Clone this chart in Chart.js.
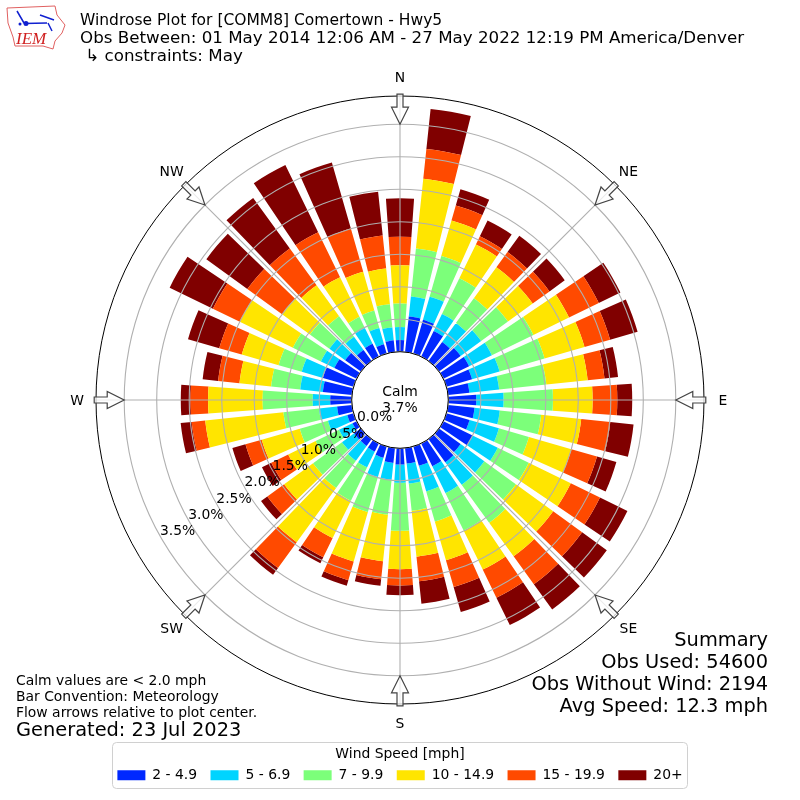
<!DOCTYPE html>
<html>
<head>
<meta charset="utf-8">
<title>Windrose</title>
<script src="https://cdn.jsdelivr.net/npm/chart.js@4"></script>
<style>
html, body { margin: 0; padding: 0; background: #fff; }
canvas { display: block; }
</style>
</head>
<body>
<canvas id="rose" width="800" height="800" style="width:800px;height:800px"></canvas>
<script>
// percent of observations per 10 degree sector, clockwise from north
var directions = [0, 10, 20, 30, 40, 50, 60, 70, 80, 90, 100, 110, 120, 130, 140, 150, 160, 170,
  180, 190, 200, 210, 220, 230, 240, 250, 260, 270, 280, 290, 300, 310, 320, 330, 340, 350];
var speed2to5 = [.18, .55, .54, .44, .36, .41, .44, .41, .33, .43, .41, .37, .50, .41, .44, .39, .31, .24,
  .25, .23, .18, .14, .13, .13, .07, .10, .23, .33, .45, .49, .38, .30, .21, .22, .15, .18];
var speed5to7 = [.20, .31, .37, .29, .36, .39, .39, .44, .46, .42, .39, .47, .43, .45, .43, .46, .41, .31,
  .28, .26, .31, .27, .28, .23, .23, .31, .28, .27, .35, .34, .23, .30, .25, .27, .26, .20];
var speed7to10 = [.36, .74, .65, .61, .47, .51, .71, .72, .73, .76, .64, .48, .53, .60, .72, .64, .48, .42,
  .74, .54, .56, .57, .52, .55, .40, .45, .55, .77, .45, .37, .48, .37, .39, .19, .28, .36];
var speed10to15 = [.59, 1.08, .57, .58, .59, .47, .61, .64, .64, .61, .62, .68, .72, .71, .64, .67, .62, .71,
  .59, .72, .79, .64, 1.03, .55, .47, .61, 1.21, .84, .49, .59, .91, .53, .59, .68, .62, .55];
var speed15to20 = [.44, .46, .24, .14, .29, .32, .51, .41, .26, .38, .45, .41, .50, .55, .53, .48, .43, .38,
  .25, .28, .30, .33, .49, .32, .29, .26, .21, .27, .33, .36, .46, .66, .70, .77, .69, .51];
var speed20up = [.59, .62, .26, .27, .31, .29, .37, .44, .21, .23, .36, .31, .47, .47, .48, .47, .40, .35,
  .15, .10, .09, .10, .13, .12, .16, .21, .17, .15, .24, .50, .74, .78, .96, 1.15, 1.06, .68];
var speedLabels = ['2 - 4.9', '5 - 6.9', '7 - 9.9', '10 - 14.9', '15 - 19.9', '20+'];
var speedColors = ['#0028ff', '#00d4ff', '#7cff7a', '#ffe500', '#ff4a00', '#800000'];
var tickValues = [0, 0.5, 1, 1.5, 2, 2.5, 3, 3.5];
var compassNames = ['N', 'NE', 'E', 'SE', 'S', 'SW', 'W', 'NW'];
var titleLines = ['Windrose Plot for [COMM8] Comertown - Hwy5',
  'Obs Between: 01 May 2014 12:06 AM - 27 May 2022 12:19 PM America/Denver',
  ' \u21b3 constraints: May'];
var summaryLines = ['Summary', 'Obs Used: 54600', 'Obs Without Wind: 2194', 'Avg Speed: 12.3 mph'];
var noteLines = ['Calm values are < 2.0 mph', 'Bar Convention: Meteorology', 'Flow arrows relative to plot center.'];

var FONT = '"DejaVu Sans", sans-serif';
var BAR_WIDTH = 8 * Math.PI / 180;

// polar area arcs, but stacked and centered on their direction
class WindRoseController extends Chart.PolarAreaController {
  updateElements(arcs, start, count, mode) {
    super.updateElements(arcs, start, count, mode);
    var scale = this._cachedMeta.rScale;
    var all = this.chart.data.datasets;
    for (var i = 0; i < count; i++) {
      var index = start + i;
      var below = 0;
      for (var d = 0; d < this.index; d++) below += all[d].data[index];
      var mid = scale.getIndexAngle(index) - Math.PI / 2;
      Object.assign(arcs[i], {
        x: scale.xCenter,
        y: scale.yCenter,
        innerRadius: scale.getDistanceFromCenterForValue(below),
        outerRadius: scale.getDistanceFromCenterForValue(below + all[this.index].data[index]),
        startAngle: mid - BAR_WIDTH / 2,
        endAngle: mid + BAR_WIDTH / 2
      });
    }
  }
}
WindRoseController.id = 'windrose';
WindRoseController.defaults = Chart.PolarAreaController.defaults;
WindRoseController.overrides = Chart.PolarAreaController.overrides;
Chart.register(WindRoseController);

function text(ctx, str, x, y, size, align) {
  ctx.font = size + 'px ' + FONT;
  ctx.fillStyle = '#000';
  ctx.textAlign = align || 'left';
  ctx.textBaseline = 'middle';
  ctx.fillText(str, x, y + 1);
}

function drawLogo(ctx) {
  ctx.save();
  ctx.strokeStyle = '#e06060';
  ctx.lineWidth = 1;
  ctx.beginPath();
  var outline = [[7, 8], [55, 6], [57, 15], [65, 25], [62, 33], [55, 41], [53, 49], [43, 46], [15, 46], [13, 37], [8, 23]];
  outline.forEach(function (p, i) { i ? ctx.lineTo(p[0], p[1]) : ctx.moveTo(p[0], p[1]); });
  ctx.closePath();
  ctx.stroke();
  ctx.strokeStyle = '#1020d0';
  ctx.fillStyle = '#1020d0';
  ctx.lineWidth = 1.5;
  ctx.beginPath();
  ctx.moveTo(24, 23.5); ctx.lineTo(47, 23);
  ctx.moveTo(17, 11); ctx.lineTo(24, 23);
  ctx.moveTo(40, 15); ctx.lineTo(54, 20);
  ctx.moveTo(48, 23); ctx.lineTo(52, 31);
  ctx.stroke();
  ctx.beginPath();
  ctx.arc(26, 23.5, 2.5, 0, Math.PI * 2);
  ctx.arc(20, 24, 1.5, 0, Math.PI * 2);
  ctx.fill();
  ctx.fillStyle = '#d02020';
  ctx.font = 'italic 17px "Liberation Serif", serif';
  ctx.textAlign = 'left';
  ctx.textBaseline = 'alphabetic';
  ctx.fillText('IEM', 16, 44);
  ctx.restore();
}

// outlined arrow on the rim, tip at the 3.5% ring
function drawArrow(ctx, scale, index) {
  var tip = scale.getPointPosition(index, scale.getDistanceFromCenterForValue(3.5));
  ctx.save();
  ctx.translate(tip.x, tip.y);
  ctx.rotate(tip.angle);
  ctx.beginPath();
  ctx.moveTo(0, 0);
  ctx.lineTo(17, -8.5);
  ctx.lineTo(17, -3);
  ctx.lineTo(30, -3);
  ctx.lineTo(30, 3);
  ctx.lineTo(17, 3);
  ctx.lineTo(17, 8.5);
  ctx.closePath();
  ctx.fillStyle = 'rgba(255,255,255,0.75)';
  ctx.strokeStyle = '#444';
  ctx.lineWidth = 1.2;
  ctx.fill();
  ctx.stroke();
  ctx.restore();
}

var decorations = {
  id: 'decorations',
  afterDraw: function (chart) {
    var ctx = chart.ctx;
    var scale = chart.scales.r;
    var cx = scale.xCenter, cy = scale.yCenter;
    var rim = scale.getDistanceFromCenterForValue(scale.max);
    ctx.save();

    // the 45 degree spokes fall between the sectors
    compassNames.forEach(function (name, i) {
      var p = scale.getPointPosition(i * 4.5, rim);
      ctx.beginPath();
      ctx.moveTo(cx, cy);
      ctx.lineTo(p.x, p.y);
      ctx.strokeStyle = '#b0b0b0';
      ctx.lineWidth = 1.1;
      ctx.stroke();
    });

    // hole with the calm share
    ctx.beginPath();
    ctx.arc(cx, cy, scale.getDistanceFromCenterForValue(0), 0, Math.PI * 2);
    ctx.fillStyle = '#fff';
    ctx.fill();
    ctx.strokeStyle = '#000';
    ctx.lineWidth = 1;
    ctx.stroke();

    // rim
    ctx.beginPath();
    ctx.arc(cx, cy, rim, 0, Math.PI * 2);
    ctx.stroke();

    compassNames.forEach(function (name, i) {
      var index = i * 4.5;
      drawArrow(ctx, scale, index);
      var p = scale.getPointPosition(index, 323);
      text(ctx, name, p.x, p.y, 13.9, 'center');
    });

    text(ctx, 'Calm', cx, 391, 13.9, 'center');
    text(ctx, '3.7%', cx, 407, 13.9, 'center');

    tickValues.forEach(function (v) {
      var p = scale.getPointPositionForValue(24, v);
      text(ctx, v.toFixed(1) + '%', p.x + 16.5, p.y - 7.5, 13.9, 'center');
    });

    titleLines.forEach(function (line, i) {
      text(ctx, line, 80, 20 + i * 18, i === 0 ? 15.5 : 16.7);
    });
    summaryLines.forEach(function (line, i) {
      text(ctx, line, 768, 640 + i * 22, 19.4, 'right');
    });
    noteLines.forEach(function (line, i) {
      text(ctx, line, 16, 680 + i * 16, 13.9);
    });
    text(ctx, 'Generated: 23 Jul 2023', 16, 730, 19.4);

    // legend frame
    ctx.beginPath();
    ctx.roundRect(112.5, 742.5, 575, 46, 4);
    ctx.strokeStyle = '#d0d0d0';
    ctx.lineWidth = 1;
    ctx.stroke();

    drawLogo(ctx);
    ctx.restore();
  }
};

var seriesValues = [speed2to5, speed5to7, speed7to10, speed10to15, speed15to20, speed20up];

new Chart(document.getElementById('rose'), {
  type: 'windrose',
  data: {
    labels: directions,
    datasets: seriesValues.map(function (values, i) {
      return {
        label: speedLabels[i],
        data: values,
        backgroundColor: speedColors[i],
        borderWidth: 0
      };
    })
  },
  plugins: [decorations],
  options: {
    responsive: false,
    animation: false,
    layout: { padding: { top: 96, left: 96, right: 96, bottom: 7.75 } },
    scales: {
      r: {
        min: -0.743,
        max: 3.934,
        afterBuildTicks: function (scale) {
          scale.ticks = tickValues.map(function (v) { return { value: v }; });
        },
        ticks: { display: false },
        pointLabels: { display: false },
        grid: { circular: true, color: '#b0b0b0', lineWidth: 1.1, z: 1 },
        angleLines: { display: false }
      }
    },
    plugins: {
      tooltip: { enabled: false },
      legend: {
        position: 'bottom',
        title: {
          display: true,
          text: 'Wind Speed [mph]',
          color: '#000',
          font: { family: FONT, size: 13.9 },
          padding: { top: 41.65, bottom: -8.8 }
        },
        labels: {
          boxWidth: 28,
          boxHeight: 10,
          padding: 13.4,
          color: '#000',
          font: { family: FONT, size: 13.9 },
          generateLabels: function (chart) {
            return chart.data.datasets.map(function (d, i) {
              return { text: d.label, fillStyle: d.backgroundColor, strokeStyle: d.backgroundColor, lineWidth: 0, datasetIndex: i };
            });
          }
        }
      }
    }
  }
});
</script>
</body>
</html>
